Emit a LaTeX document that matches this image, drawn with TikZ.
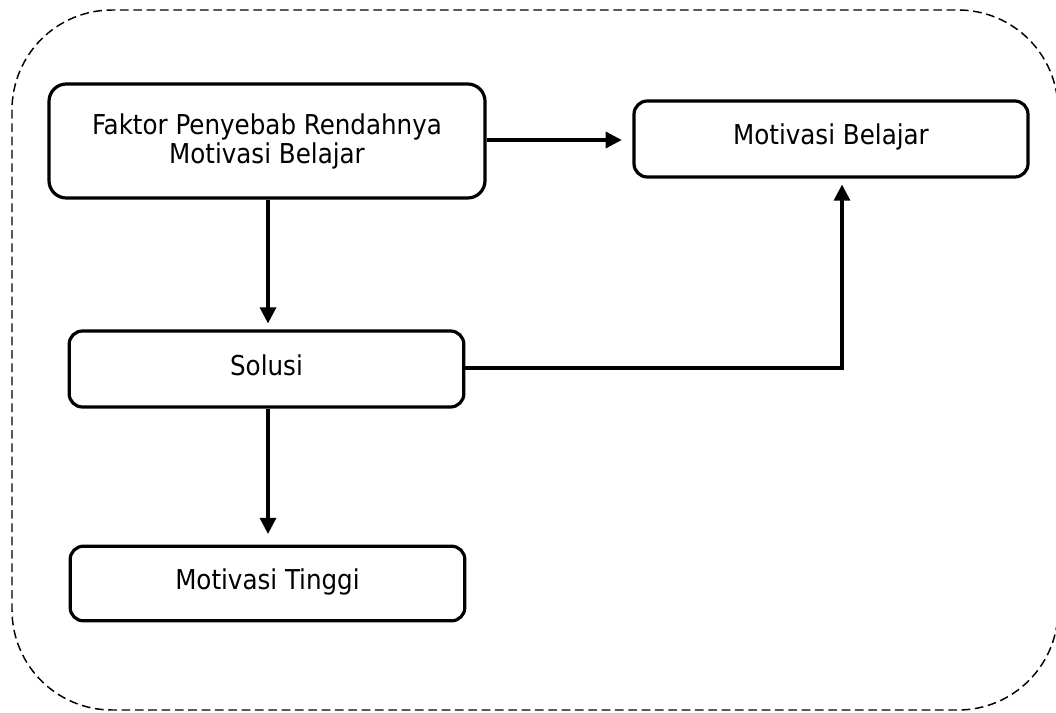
\documentclass[tikz,border=0pt]{standalone}
\usepackage{fontspec}
\setmainfont{DejaVu Sans Condensed}
\usetikzlibrary{arrows.meta}
\begin{document}
\begin{tikzpicture}[x=0.75pt,y=-0.75pt,
  box/.style={draw=black,line width=2.4pt,rounded corners=10pt,fill=white,
    inner sep=0pt,align=center,font=\fontsize{20.5pt}{21.75pt}\selectfont},
  lbl/.style={text height=15pt,text depth=6pt},
  conn/.style={line width=2.4pt,-{Triangle[length=12pt,width=12pt]}},
  frame/.style={draw=black,line width=1.1pt,dash pattern=on 6.5pt off 3.5pt,rounded corners=75pt}]
\useasboundingbox (0,0) rectangle (1056,713);
\draw[frame] (12,10) rectangle (1058,710);
\node[box,minimum width=327pt,minimum height=85.5pt,rounded corners=13pt] (f) at (267,141)
  {Faktor Penyebab Rendahnya\\Motivasi Belajar};
\node[box,lbl,minimum width=295.5pt,minimum height=57pt] (mb) at (831,139) {Motivasi Belajar};
\node[box,lbl,minimum width=296pt,minimum height=57pt] (s) at (266.5,369) {Solusi};
\node[box,lbl,minimum width=296pt,minimum height=56pt] (mt) at (267.5,583.5) {Motivasi Tinggi};
\coordinate (c) at (842,368);
\draw[conn,shorten >=8pt] (f.east |- 0,140) -- (mb.west |- 0,140);
\draw[conn,shorten >=4.5pt] (f.south -| 268,0) -- (s.north -| 268,0);
\draw[conn,shorten >=8pt] (s.south -| 268,0) -- (mt.north -| 268,0);
\draw[conn,shorten >=4.5pt] (s.east |- c) -- (c) -- (c |- mb.south);
\end{tikzpicture}
\end{document}
